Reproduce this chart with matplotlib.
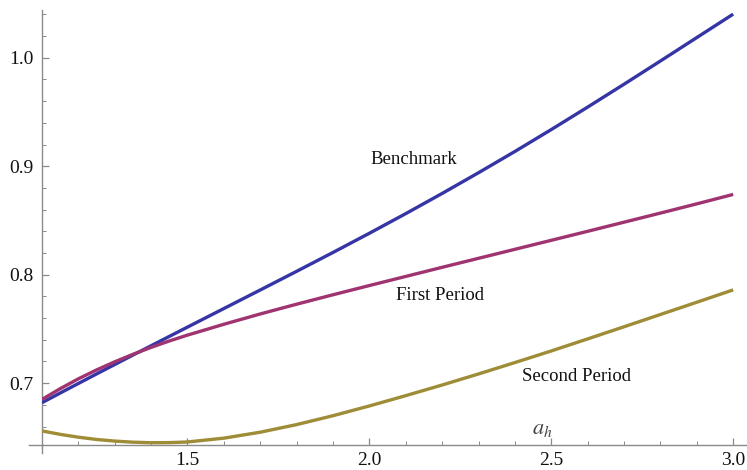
import numpy as np
import matplotlib
matplotlib.use("Agg")
import matplotlib.pyplot as plt
from matplotlib.ticker import MultipleLocator, FixedLocator

# Sample points of the three curves against a_h
a_h = [1.1, 1.15, 1.2, 1.25, 1.3, 1.35, 1.4, 1.45, 1.5, 1.6, 1.7, 1.8, 1.9, 2.0,
       2.1, 2.2, 2.3, 2.4, 2.5, 2.6, 2.7, 2.8, 2.9, 3.0]
benchmark = [0.6820, 0.6909, 0.6997, 0.7085, 0.7172, 0.7259, 0.7345, 0.7431, 0.7517,
             0.7688, 0.7859, 0.8031, 0.8205, 0.8382, 0.8563, 0.8749, 0.8940, 0.9136,
             0.9338, 0.9545, 0.9756, 0.9970, 1.0186, 1.0402]
first_period = [0.6850, 0.6949, 0.7040, 0.7122, 0.7197, 0.7266, 0.7330, 0.7389, 0.7443,
                0.7543, 0.7638, 0.7728, 0.7815, 0.7900, 0.7984, 0.8068, 0.8151, 0.8234,
                0.8317, 0.8400, 0.8484, 0.8568, 0.8653, 0.8740]
second_period = [0.6560, 0.6528, 0.6502, 0.6481, 0.6466, 0.6456, 0.6451, 0.6452, 0.6458,
                 0.6493, 0.6548, 0.6618, 0.6700, 0.6790, 0.6885, 0.6983, 0.7085, 0.7190,
                 0.7297, 0.7408, 0.7520, 0.7633, 0.7746, 0.7860]

x_ticks = [1.5, 2.0, 2.5, 3.0]
x_tick_labels = ["1.5", "2.0", "2.5", "3.0"]
y_ticks = [0.7, 0.8, 0.9, 1.0]
y_tick_labels = ["0.7", "0.8", "0.9", "1.0"]

curve_labels = ["Benchmark", "First Period", "Second Period"]
label_pos = [(2.123, 0.906), (2.194, 0.781), (2.570, 0.706)]

colors = ["#3535A6", "#A03470", "#9E8C36"]
axis_gray = "#8a8a8a"
serif = ["Liberation Serif", "DejaVu Serif"]

plt.rcParams["font.family"] = serif
plt.rcParams["mathtext.fontset"] = "stix"

fig = plt.figure(figsize=(7.47, 4.70), dpi=100)
ax = fig.add_axes([0.0562, 0.0532, 0.9438, 0.9255])

x0, x1 = 1.1, 3.038
y0, y1 = 0.643, 1.044
ax.set_xlim(x0, x1)
ax.set_ylim(y0, y1)

for series, c in zip([benchmark, first_period, second_period], colors):
    ax.plot(a_h, series, color=c, lw=2.4, solid_capstyle="butt",
            solid_joinstyle="round", zorder=3)

for text, (tx, ty) in zip(curve_labels, label_pos):
    ax.text(tx, ty, text, ha="center", va="center", fontsize=13.5,
            color="#111111", family=serif)

ax.text(2.474, 0.657, r"$a_h$", ha="center", va="center", fontsize=16, color="#444444")

# Mathematica-like axes: only the two crossing axis lines
for side in ["top", "right"]:
    ax.spines[side].set_visible(False)
for side in ["left", "bottom"]:
    ax.spines[side].set_color(axis_gray)
    ax.spines[side].set_linewidth(1.0)

# small overshoot where the axes cross
ax.plot([x0 - 0.035, x0], [y0, y0], color=axis_gray, lw=1.0, clip_on=False)
ax.plot([x0, x0], [y0 - 0.007, y0], color=axis_gray, lw=1.0, clip_on=False)

ax.xaxis.set_major_locator(FixedLocator(x_ticks))
ax.set_xticklabels(x_tick_labels, family=serif)
ax.xaxis.set_minor_locator(MultipleLocator(0.1))
ax.yaxis.set_major_locator(FixedLocator(y_ticks))
ax.set_yticklabels(y_tick_labels, family=serif)
ax.yaxis.set_minor_locator(MultipleLocator(0.02))

ax.tick_params(which="major", direction="in", length=5, width=0.9, color=axis_gray,
               labelsize=14, labelcolor="#111111")
ax.tick_params(which="minor", direction="in", length=3, width=0.7, color=axis_gray)
ax.tick_params(axis="x", pad=5)
ax.tick_params(axis="y", pad=6)

fig.savefig("out.png", dpi=100)
